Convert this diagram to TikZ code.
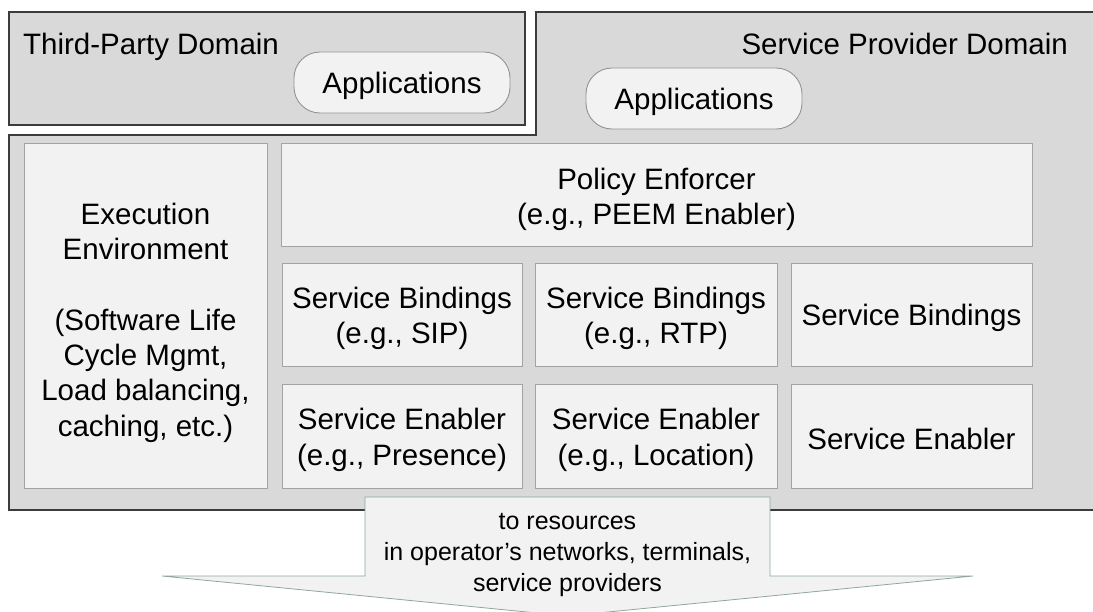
\documentclass[tikz,border=0pt]{standalone}
\usepackage{fontspec}
\setmainfont{Liberation Sans}
\definecolor{domfill}{HTML}{D9D9D9}
\definecolor{domline}{HTML}{3C3C3C}
\definecolor{boxfill}{HTML}{F2F2F2}
\definecolor{boxline}{HTML}{A3A3A3}
\definecolor{arrline}{HTML}{8FA898}
\begin{document}
\begin{tikzpicture}[x=1pt,y=-1pt,
  dombox/.style={fill=domfill,draw=domline,line width=1.3pt},
  block/.style={rectangle,fill=boxfill,draw=boxline,line width=0.9pt,inner sep=0pt},
  btext/.style={align=center,inner sep=0pt,font=\fontsize{29.5}{35.3}\selectfont},
  appbox/.style={rectangle,rounded corners=26pt,fill=boxfill,draw=boxline!90!black,line width=0.9pt,
    inner sep=0pt,minimum width=216pt,minimum height=61pt},
  domlabel/.style={inner sep=0pt,font=\fontsize{29.5}{35}\selectfont},
  arrowtext/.style={align=center,inner sep=0pt,font=\fontsize{25}{31}\selectfont}]
\useasboundingbox (0,0) rectangle (1093,611);
\fill[white] (0,0) rectangle (1093,611);
% Third-party domain
\draw[dombox] (9,12) rectangle (525,125);
\node[domlabel,anchor=base west] (tpl) at (23,54) {Third-Party Domain};
\node[appbox] (tpapp) at (402,82.5) {};
\node[btext] (tpappt) at ([yshift=-3pt]tpapp.center) {Applications};
% Service provider domain (L-shape)
\draw[dombox] (536,12) -- (1100,12) -- (1100,510) -- (9,510) -- (9,135) -- (536,135) -- cycle;
\node[domlabel,anchor=base east] (spl) at (1068,54) {Service Provider Domain};
\node[appbox] (spapp) at (694,98.5) {};
\node[btext] (spappt) at ([yshift=-3pt]spapp.center) {Applications};
% inner blocks
\node[block,minimum width=243pt,minimum height=345pt] (exec) at (145.5,315.5) {};
\node[block,minimum width=751pt,minimum height=103pt] (pol) at (656.5,194.5) {};
\node[block,minimum width=240pt,minimum height=103pt] (sb1) at (402,314.5) {};
\node[block,minimum width=242pt,minimum height=103pt] (sb2) at (656,314.5) {};
\node[block,minimum width=241pt,minimum height=103pt] (sb3) at (911.5,314.5) {};
\node[block,minimum width=240pt,minimum height=104pt] (se1) at (402,436) {};
\node[block,minimum width=242pt,minimum height=104pt] (se2) at (656,436) {};
\node[block,minimum width=241pt,minimum height=104pt] (se3) at (911.5,436) {};
\node[btext] (exect) at ([yshift=-7pt]exec.center)
  {Execution\\Environment\\[35.3pt](Software Life\\Cycle Mgmt,\\Load balancing,\\caching, etc.)};
\node[btext] (polt) at ([yshift=-5pt]pol.center) {Policy Enforcer\\(e.g., PEEM Enabler)};
\node[btext] (sb1t) at ([yshift=-4pt]sb1.center) {Service Bindings\\(e.g., SIP)};
\node[btext] (sb2t) at ([yshift=-4pt]sb2.center) {Service Bindings\\(e.g., RTP)};
\node[btext] (sb3t) at ([yshift=-3pt]sb3.center) {Service Bindings};
\node[btext] (se1t) at ([yshift=-4pt]se1.center) {Service Enabler\\(e.g., Presence)};
\node[btext] (se2t) at ([yshift=-4pt]se2.center) {Service Enabler\\(e.g., Location)};
\node[btext] (se3t) at ([yshift=-3pt]se3.center) {Service Enabler};
% downward arrow
\draw[fill=boxfill,draw=arrline,line width=0.8pt]
  (365,497) -- (770,497) -- (770,576) -- (973,576) -- (567.5,616) -- (162,576) -- (365,576) -- cycle;
\node[arrowtext] (res) at (567.5,555)
  {to resources\\in operator’s networks, terminals,\\service providers};
\end{tikzpicture}
\end{document}
